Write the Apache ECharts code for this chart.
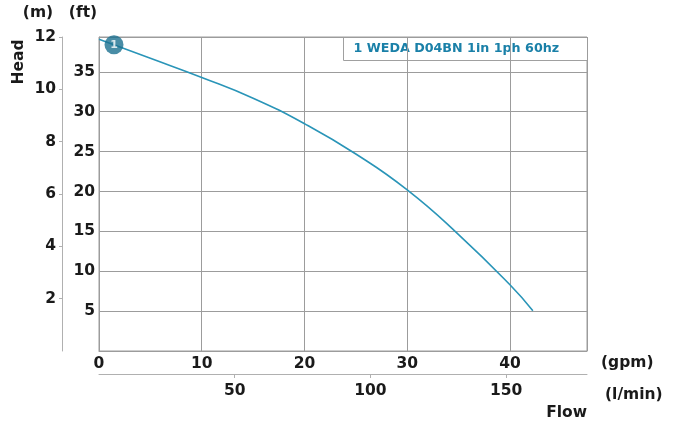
<!DOCTYPE html>
<html>
<head>
<meta charset="utf-8">
<script src="https://cdn.jsdelivr.net/npm/echarts@6/dist/echarts.min.js"></script>
<style>
html,body{margin:0;padding:0;background:#fff;}
#c{width:683px;height:428px;}
</style>
</head>
<body>
<div id="c"></div>
<script>
// ---- data ----
const seriesName = '1 WEDA D04BN 1in 1ph 60hz';
const flowGpm = [0, 5, 10, 15, 20, 25, 30, 35, 40, 42.23];
const headFt  = [39.08, 36.7, 34.3, 31.7, 28.5, 24.7, 20.2, 14.6, 8.3, 5.05];
const markerPoint = [1.46, 38.4];
const markerLabel = '1';
const gpmTicks = [0, 10, 20, 30, 40];
const lminTicks = [50, 100, 150];
const ftTicks = [5, 10, 15, 20, 25, 30, 35];
const mTicks = [2, 4, 6, 8, 10, 12];
const gpmMax = 47.5;
const mMax = 12;
const GPM_TO_LMIN = 3.78541;
const M_TO_FT = 3.28084;

const FONT = 'DejaVu Sans';
const labelStyle = {fontFamily: FONT, fontWeight: 'bold', fontSize: 15.5, color: '#1a1a1a'};
const gridColor = '#9c9c9c';
const axisGray = '#b0b0b0';

const chart = echarts.init(document.getElementById('c'), null, {renderer: 'canvas'});
chart.setOption({
  animation: false,
  backgroundColor: '#fff',
  grid: {left: 99, top: 37, right: 96, bottom: 77, show: true, borderColor: gridColor, borderWidth: 1, containLabel: false, outerBoundsMode: 'none'},
  xAxis: [
    {
      type: 'value', position: 'bottom', min: 0, max: gpmMax, interval: 10,
      axisLine: {show: true, onZero: false, lineStyle: {color: gridColor}},
      axisTick: {show: false},
      splitLine: {show: true, lineStyle: {color: gridColor, width: 1}},
      axisLabel: Object.assign({margin: 5, customValues: gpmTicks}, labelStyle)
    },
    {
      type: 'value', position: 'bottom', offset: 23, min: 0, max: gpmMax * GPM_TO_LMIN, interval: 50,
      axisLine: {show: true, onZero: false, lineStyle: {color: axisGray}},
      axisTick: {show: true, length: 4, inside: false, customValues: lminTicks, lineStyle: {color: axisGray}},
      splitLine: {show: false},
      axisLabel: Object.assign({margin: 9, customValues: lminTicks}, labelStyle)
    }
  ],
  yAxis: [
    {
      type: 'value', position: 'left', min: 0, max: mMax * M_TO_FT, interval: 5,
      axisLine: {show: true, onZero: false, lineStyle: {color: gridColor}},
      axisTick: {show: false},
      splitLine: {show: true, lineStyle: {color: gridColor, width: 1}},
      axisLabel: Object.assign({margin: 4, customValues: ftTicks}, labelStyle)
    },
    {
      type: 'value', position: 'left', offset: 37, min: 0, max: mMax, interval: 2,
      axisLine: {show: true, onZero: false, lineStyle: {color: axisGray}},
      axisTick: {show: true, length: 3, customValues: mTicks, lineStyle: {color: axisGray}},
      splitLine: {show: false},
      axisLabel: Object.assign({margin: 6, customValues: mTicks}, labelStyle)
    }
  ],
  series: [
    {
      name: seriesName, type: 'line', xAxisIndex: 0, yAxisIndex: 0,
      data: flowGpm.map((g, i) => [g, headFt[i]]),
      smooth: 0.5, showSymbol: false, symbol: 'none',
      lineStyle: {color: '#2a95b8', width: 1.6}, z: 3
    },
    {
      type: 'scatter', xAxisIndex: 0, yAxisIndex: 0,
      data: [markerPoint], symbol: 'circle', symbolSize: 19,
      itemStyle: {color: '#1b7090'}, z: 5,
      label: {show: true, position: 'inside', formatter: markerLabel, color: '#fff', fontFamily: FONT, fontWeight: 'bold', fontSize: 11}
    }
  ],
  graphic: [
    {type: 'group', left: 343, top: 37, z: 100, children: [
      {type: 'rect', shape: {x: 0, y: 0, width: 244, height: 23}, style: {fill: '#fff', stroke: '#a0a0a0', lineWidth: 1}},
      {type: 'text', x: 10, y: 11.5, style: {text: seriesName, fill: '#1a80a8', font: 'bold 12.7px "DejaVu Sans"', verticalAlign: 'middle'}}
    ]},
    {type: 'text', x: 38, y: 13, style: {text: '(m)', fill: '#1a1a1a', font: 'bold 15.5px "DejaVu Sans"', align: 'center', verticalAlign: 'middle'}},
    {type: 'text', x: 83, y: 13, style: {text: '(ft)', fill: '#1a1a1a', font: 'bold 15.5px "DejaVu Sans"', align: 'center', verticalAlign: 'middle'}},
    {type: 'text', x: 19, y: 62, rotation: Math.PI / 2, style: {text: 'Head', fill: '#1a1a1a', font: 'bold 15.5px "DejaVu Sans"', align: 'center', verticalAlign: 'middle'}},
    {type: 'text', x: 601, y: 363, style: {text: '(gpm)', fill: '#1a1a1a', font: 'bold 15.5px "DejaVu Sans"', align: 'left', verticalAlign: 'middle'}},
    {type: 'text', x: 605, y: 395, style: {text: '(l/min)', fill: '#1a1a1a', font: 'bold 15.5px "DejaVu Sans"', align: 'left', verticalAlign: 'middle'}},
    {type: 'text', x: 587, y: 413, style: {text: 'Flow', fill: '#1a1a1a', font: 'bold 15.5px "DejaVu Sans"', align: 'right', verticalAlign: 'middle'}}
  ]
});
</script>
</body>
</html>
